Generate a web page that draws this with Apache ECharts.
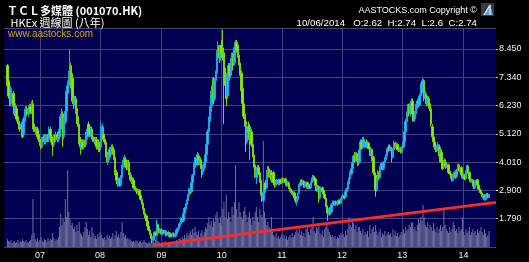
<!DOCTYPE html>
<html><head><meta charset="utf-8">
<script src="https://cdn.jsdelivr.net/npm/echarts@6/dist/echarts.min.js"></script>
<style>html,body{margin:0;padding:0;background:#000;}#c{width:529px;height:262px;}</style>
</head><body><div id="c"></div>
<script>
// ---- data (weekly, first week 2006-06-20, last week 2014-06-10) ----
const startDate = [2006, 5, 20];
const padBefore = 3;
const padAfter = 6;
const opens = [
7.80,7.20,6.60,6.30,6.50,6.70,6.30,5.90,6.10,5.80,
5.60,5.50,5.40,5.50,5.10,5.60,5.90,6.10,5.90,6.00,
6.20,6.00,6.30,5.50,5.30,5.10,5.30,5.10,4.90,4.80,
4.60,4.90,5.00,4.80,4.90,5.00,4.90,5.30,5.00,4.80,
4.70,5.00,4.90,5.10,4.90,5.00,5.30,5.70,5.90,5.00,
5.60,6.00,6.70,7.00,7.30,7.80,7.30,6.60,6.30,6.50,
6.10,5.80,5.50,4.90,4.60,4.80,4.60,4.80,4.70,5.00,
5.50,5.40,5.10,5.30,5.00,4.90,4.80,4.90,4.60,4.80,
4.60,4.60,5.20,5.10,4.90,4.80,4.40,4.00,4.20,4.50,
4.40,4.60,4.50,4.20,3.60,3.30,3.10,3.30,3.10,3.40,
3.80,3.90,4.10,4.00,3.80,4.00,3.60,3.40,3.20,3.30,
3.05,2.95,2.95,2.80,2.90,2.70,2.55,2.40,2.20,2.00,
1.90,1.70,1.50,1.35,1.20,1.05,0.95,1.10,1.25,1.15,
1.55,1.40,1.25,1.35,1.20,1.30,1.25,1.30,1.15,1.25,
1.10,1.20,1.10,1.15,1.20,1.10,1.20,1.30,1.40,1.50,
1.60,1.80,1.70,2.00,2.15,2.35,2.50,2.70,2.95,2.85,
3.20,3.50,3.80,4.10,3.90,4.25,4.00,4.10,3.90,3.60,
3.80,4.00,4.30,4.70,5.20,5.60,6.00,6.30,7.20,6.50,
7.20,7.50,8.20,8.50,8.10,8.60,8.40,8.30,7.70,7.30,
6.60,7.40,7.80,7.40,7.90,8.20,7.90,8.40,8.70,8.60,
8.20,7.90,7.50,6.90,6.30,5.90,5.60,4.80,5.40,5.40,
4.90,5.20,4.70,4.30,3.90,3.40,3.60,3.80,3.60,3.30,
2.80,2.50,2.80,3.20,3.00,3.50,3.75,3.40,3.60,3.30,
3.60,3.30,3.10,3.20,3.30,3.15,3.30,3.20,3.35,3.25,
3.35,3.25,3.10,3.20,3.00,2.95,2.85,2.75,2.80,2.65,
2.45,2.55,2.80,3.10,3.30,3.15,3.25,3.05,3.10,3.20,
3.00,3.10,3.00,3.20,3.30,3.45,3.35,3.10,2.90,3.05,
2.60,2.90,3.00,2.90,2.75,2.60,2.30,2.10,1.95,2.20,
2.05,2.35,2.45,2.35,2.45,2.35,2.40,2.50,2.40,2.55,
2.60,2.70,2.65,2.85,2.95,3.15,3.35,3.55,3.75,4.00,
4.30,4.05,4.35,4.20,4.00,4.50,4.80,4.60,4.90,4.60,
4.80,4.60,4.75,4.60,4.30,4.50,4.20,3.60,3.50,2.90,
3.30,3.60,3.40,3.75,3.95,3.75,4.00,4.10,4.25,4.45,
4.60,4.50,4.55,4.20,4.50,4.75,4.55,4.70,4.55,4.45,
4.55,4.40,4.60,4.80,5.20,5.60,5.90,6.20,5.90,6.30,
6.40,6.00,5.70,5.90,6.20,6.40,6.25,6.60,7.10,6.80,
7.20,6.50,6.60,6.30,6.50,6.30,6.10,5.40,5.00,4.80,
4.65,4.45,4.50,4.60,4.30,4.40,4.05,3.80,4.10,4.00,
3.80,3.90,3.65,3.55,3.40,3.30,3.50,3.60,3.45,3.70,
3.90,3.65,3.80,3.55,3.40,3.50,3.35,3.65,3.85,3.60,
3.35,3.25,3.30,3.15,3.00,3.20,3.30,3.10,2.95,2.90,
2.80,2.60,2.70,2.55,2.65,2.75,2.62];
const closes = [
7.00,6.60,6.30,6.90,6.70,6.20,5.90,6.20,5.70,5.60,
5.40,5.30,5.50,5.00,5.70,6.00,6.10,5.90,6.10,6.20,
6.00,6.30,5.40,5.30,5.20,5.30,5.00,4.90,4.75,4.60,
4.90,5.00,4.80,5.00,5.00,4.90,5.30,5.00,4.80,4.70,
5.00,4.90,5.10,4.90,5.00,5.30,5.80,6.00,5.00,5.70,
6.00,6.80,7.00,7.40,7.70,7.00,6.40,6.30,6.50,6.00,
5.60,5.50,4.80,4.60,4.80,4.60,4.80,4.70,5.10,5.30,
5.20,5.10,5.30,5.00,4.90,4.80,4.90,4.60,4.80,4.50,
4.50,5.30,5.40,4.90,4.80,4.30,4.10,4.20,4.50,4.40,
4.60,4.40,4.20,3.60,3.30,3.15,3.30,3.10,3.40,3.80,
4.00,4.20,3.90,3.80,4.00,3.60,3.35,3.25,3.30,3.00,
2.95,2.90,2.80,2.90,2.70,2.55,2.40,2.20,2.00,1.85,
1.70,1.50,1.35,1.20,1.05,0.95,1.10,1.25,1.15,1.55,
1.40,1.25,1.35,1.20,1.30,1.25,1.30,1.15,1.25,1.15,
1.20,1.10,1.15,1.20,1.10,1.20,1.35,1.40,1.55,1.60,
1.80,1.70,2.00,2.20,2.35,2.50,2.70,2.95,2.85,3.20,
3.50,3.90,4.10,3.90,4.30,4.00,4.10,3.85,3.60,3.80,
4.00,4.30,4.70,5.20,5.70,6.10,6.70,7.00,6.50,7.20,
7.50,8.30,8.60,8.10,8.50,8.30,8.20,7.70,7.20,6.50,
7.50,7.80,7.40,8.00,8.20,7.80,8.50,8.70,8.40,8.20,
7.90,7.50,6.80,6.30,5.80,5.50,4.80,5.40,5.20,4.90,
5.20,4.70,4.30,3.90,3.50,3.70,3.80,3.60,3.30,2.80,
2.55,2.80,3.10,3.00,3.60,3.75,3.50,3.60,3.30,3.50,
3.20,3.10,3.20,3.30,3.15,3.30,3.20,3.35,3.25,3.35,
3.20,3.10,3.20,3.00,2.90,2.85,2.75,2.80,2.60,2.50,
2.55,2.70,3.10,3.20,3.15,3.25,3.05,3.15,3.20,3.00,
3.10,3.00,3.20,3.30,3.45,3.30,3.10,2.90,3.05,2.60,
2.95,3.00,2.85,2.75,2.60,2.30,2.05,1.95,2.20,2.05,
2.35,2.45,2.35,2.45,2.35,2.45,2.50,2.40,2.55,2.65,
2.70,2.60,2.85,2.95,3.20,3.35,3.60,3.75,4.00,4.25,
4.05,4.30,4.10,3.90,4.50,4.80,4.55,4.90,4.65,4.80,
4.60,4.75,4.55,4.30,4.50,4.10,3.60,3.50,2.90,3.30,
3.60,3.40,3.80,3.95,3.75,4.00,4.10,4.25,4.50,4.60,
4.50,4.55,4.20,4.50,4.75,4.60,4.70,4.50,4.45,4.55,
4.40,4.60,4.80,5.20,5.60,5.90,6.20,5.90,6.30,6.40,
5.90,5.70,5.90,6.20,6.40,6.25,6.60,7.00,6.80,7.25,
6.50,6.70,6.30,6.50,6.20,6.10,5.50,5.00,4.80,4.60,
4.45,4.60,4.70,4.25,4.50,4.00,3.75,4.00,3.90,3.80,
3.90,3.60,3.55,3.40,3.30,3.50,3.60,3.40,3.70,3.90,
3.70,3.80,3.50,3.40,3.50,3.35,3.65,3.85,3.60,3.35,
3.25,3.30,3.10,3.00,3.25,3.30,3.10,2.95,2.85,2.80,
2.70,2.70,2.55,2.65,2.75,2.65,2.74];
const lows = [
6.85,6.50,6.20,6.20,6.40,6.10,5.80,5.80,5.60,5.50,
5.30,5.20,5.30,4.95,5.00,5.50,5.80,5.80,5.80,5.90,
5.90,5.90,5.30,5.20,5.10,5.00,4.90,4.80,4.65,4.50,
4.55,4.80,4.70,4.70,4.80,4.80,4.80,4.90,4.70,4.25,
4.60,4.80,4.80,4.80,4.80,4.90,5.20,5.60,4.60,4.90,
5.50,5.90,6.50,6.80,7.10,6.90,6.30,6.10,6.20,5.90,
5.50,5.40,4.70,4.30,4.50,4.50,4.50,4.60,4.60,4.90,
5.10,5.00,5.00,4.90,4.80,4.70,4.70,4.50,4.50,4.40,
4.40,4.50,5.00,4.80,4.70,4.20,4.00,3.90,4.10,4.30,
4.30,4.30,4.10,3.50,3.20,3.05,3.05,3.05,3.05,3.30,
3.70,3.80,3.80,3.70,3.70,3.50,3.30,3.15,3.10,2.95,
2.90,2.85,2.75,2.75,2.65,2.50,2.35,2.15,1.95,1.80,
1.65,1.45,1.30,1.15,1.00,0.84,0.90,1.05,1.10,1.10,
1.35,1.20,1.20,1.15,1.15,1.20,1.20,1.10,1.10,1.10,
1.05,1.05,1.05,1.10,1.05,1.05,1.15,1.25,1.35,1.45,
1.55,1.65,1.65,1.95,2.10,2.30,2.45,2.65,2.75,2.80,
3.15,3.45,3.70,3.80,3.85,3.90,3.90,3.75,3.40,3.50,
3.70,3.90,4.20,4.60,5.10,5.50,5.90,6.20,6.30,6.40,
7.10,7.40,8.00,7.90,8.00,8.10,8.00,5.50,7.00,6.20,
6.50,7.30,7.20,7.30,7.80,7.60,7.80,8.30,8.30,8.10,
7.80,7.40,6.70,6.20,5.70,5.40,4.40,4.70,5.00,4.10,
4.80,4.60,4.20,3.80,3.40,3.15,3.50,3.50,3.20,2.70,
2.45,2.45,2.70,2.90,2.95,3.40,3.40,3.30,3.20,3.20,
3.10,3.00,3.05,3.15,3.10,3.10,3.15,3.15,3.20,3.20,
3.15,3.05,3.05,2.95,2.85,2.80,2.70,2.70,2.55,2.40,
2.30,2.50,2.75,3.05,3.10,3.10,3.00,3.00,3.05,2.95,
2.95,2.95,2.95,3.15,3.25,3.25,3.05,2.85,2.85,2.40,
2.55,2.85,2.80,2.70,2.55,2.25,2.00,1.70,1.90,2.00,
2.00,2.30,2.30,2.30,2.30,2.30,2.35,2.35,2.35,2.50,
2.55,2.55,2.60,2.80,2.90,3.10,3.30,3.50,3.70,3.95,
4.00,4.00,4.05,3.85,3.95,4.45,4.50,4.55,4.60,4.55,
4.55,4.55,4.50,4.25,4.25,4.05,3.55,3.40,2.65,2.85,
3.25,3.35,3.35,3.70,3.70,3.70,3.95,4.05,4.20,4.40,
4.45,4.45,4.00,4.15,4.45,4.55,4.50,4.45,4.40,4.40,
4.35,4.35,4.55,4.75,5.15,5.50,5.80,5.80,5.80,6.20,
5.60,5.60,5.60,5.80,6.10,6.15,6.20,6.50,6.70,6.70,
6.40,6.40,6.20,6.20,6.10,6.00,5.40,4.90,4.70,4.50,
4.40,4.40,4.45,4.00,4.25,3.95,3.70,3.75,3.85,3.75,
3.75,3.55,3.50,3.35,3.25,3.25,3.45,3.35,3.40,3.65,
3.65,3.60,3.45,3.35,3.35,3.30,3.30,3.60,3.55,3.30,
3.20,3.20,3.05,2.95,2.95,3.15,3.05,2.90,2.80,2.75,
2.65,2.55,2.50,2.50,2.60,2.60,2.60];
const highs = [
7.85,7.30,6.70,7.00,6.85,6.80,6.40,6.30,6.20,5.90,
5.70,5.60,5.60,5.60,5.80,6.10,6.20,6.20,6.20,6.30,
6.30,6.40,6.45,5.60,5.40,5.40,5.40,5.20,5.00,4.90,
5.00,5.10,5.10,5.10,5.10,5.10,5.40,5.40,5.10,4.90,
5.10,5.10,5.20,5.20,5.10,5.40,5.90,6.10,6.00,5.80,
6.10,6.90,7.20,7.60,8.42,7.90,7.50,6.70,6.60,6.60,
6.20,5.90,5.60,5.00,4.90,4.90,4.90,4.90,5.20,5.40,
5.60,5.50,5.40,5.40,5.10,5.00,5.00,5.00,4.90,4.90,
4.70,5.60,5.50,5.30,5.00,4.90,4.50,4.30,4.60,4.60,
4.70,4.70,4.60,4.30,3.70,3.40,3.40,3.40,3.50,3.90,
4.10,4.30,4.20,4.10,4.10,4.10,3.70,3.50,3.40,3.40,
3.10,3.00,3.00,2.95,2.95,2.75,2.60,2.45,2.25,2.05,
1.95,1.75,1.55,1.40,1.25,1.10,1.15,1.30,1.30,1.75,
1.60,1.45,1.40,1.40,1.35,1.35,1.35,1.35,1.30,1.30,
1.25,1.25,1.20,1.25,1.25,1.25,1.40,1.45,1.60,1.65,
1.85,1.85,2.05,2.25,2.40,2.55,2.75,3.00,3.00,3.25,
3.55,4.00,4.20,4.20,4.40,4.35,4.20,4.20,3.95,3.90,
4.10,4.40,4.80,5.30,5.80,6.20,6.80,7.30,7.35,7.30,
7.60,8.40,8.75,8.60,8.60,8.80,9.20,8.50,7.80,7.40,
7.60,7.90,7.90,8.10,8.30,8.30,8.60,8.80,8.80,8.70,
8.30,8.00,7.60,7.00,6.40,6.00,5.75,5.50,5.60,5.50,
5.30,5.30,4.80,4.40,4.00,3.80,3.90,3.90,3.70,3.40,
2.90,2.90,3.20,3.30,3.70,3.85,3.85,3.70,3.70,3.60,
3.65,3.40,3.25,3.35,3.35,3.35,3.35,3.40,3.40,3.40,
3.40,3.30,3.25,3.25,3.05,3.00,2.90,2.85,2.85,2.70,
2.60,2.80,3.15,3.30,3.35,3.30,3.30,3.20,3.25,3.25,
3.15,3.15,3.25,3.40,3.50,3.50,3.40,3.15,3.10,3.10,
3.00,3.05,3.05,2.95,2.80,2.65,2.35,2.15,2.25,2.25,
2.40,2.50,2.50,2.50,2.50,2.50,2.55,2.55,2.60,2.70,
2.75,2.75,2.90,3.00,3.25,3.40,3.65,3.80,4.05,4.30,
4.40,4.40,4.40,4.25,4.55,4.90,4.90,5.00,5.00,4.90,
4.90,4.85,4.80,4.65,4.55,4.55,4.25,3.70,3.55,3.40,
3.70,3.65,3.85,4.00,4.00,4.05,4.20,4.30,4.55,4.70,
4.70,4.65,4.60,4.55,4.85,4.80,4.75,4.75,4.60,4.60,
4.60,4.65,4.85,5.30,5.70,6.00,6.30,6.30,6.40,6.50,
6.50,6.10,6.00,6.30,6.50,6.50,6.70,7.10,7.20,7.30,
7.25,6.80,6.70,6.60,6.60,6.40,6.20,5.50,5.10,4.90,
4.70,4.70,4.80,4.70,4.55,4.50,4.10,4.10,4.15,4.05,
3.95,3.95,3.70,3.60,3.45,3.55,3.65,3.65,3.75,3.95,
3.95,3.85,3.85,3.60,3.55,3.55,3.70,3.90,3.90,3.65,
3.40,3.35,3.35,3.20,3.30,3.35,3.35,3.15,3.00,2.95,
2.85,2.75,2.75,2.70,2.80,2.80,2.74];
const volumes = [
8,6,5,7,4,5,6,4,5,7, 4,6,5,8,6,5,7,5,4,6, 7,12,48,14,8,6,9,5,7,10,
6,5,8,7,5,9,6,8,7,14, 9,6,8,7,10,20,33,22,28,25, 48,30,77,35,28,22,24,18,20,15,
22,16,25,14,12,10,15,20,25,18, 12,16,10,20,14,9,11,8,13,10, 15,12,9,8,10,7,12,9,11,8,
10,14,8,12,16,10,13,9,15,25, 14,10,12,8,9,7,8,6,5,6, 5,7,6,4,5,6,4,5,7,5,
4,3,5,4,6,8,5,4,7,10, 6,5,4,3,5,4,6,3,4,5, 4,3,5,4,6,5,7,6,8,9,
7,10,8,12,9,14,11,13,16,12, 18,14,20,15,12,16,10,14,17,12, 15,20,18,24,30,22,26,20,28,25,
32,35,28,24,30,22,38,45,30,52, 28,35,30,25,40,32,45,82,38,30, 45,35,30,28,36,40,32,25,30,35,
28,22,30,26,35,40,30,25,38,32, 30,106,35,28,22,25,20,18,30,15, 12,10,14,9,11,8,10,13,9,12,
8,11,7,10,12,9,14,10,12,15, 18,14,20,12,16,11,14,10,18,22, 15,12,18,20,30,16,14,20,18,24,
14,12,16,10,18,20,24,18,15,12, 10,12,9,11,8,10,9,12,14,11, 13,10,16,12,18,30,22,20,28,24,
18,22,15,20,20,16,14,18,12,15, 13,16,10,22,14,18,20,15,22,16, 12,15,18,10,14,12,16,11,13,15,
12,14,10,18,12,16,11,14,10,12, 15,12,18,14,20,16,18,22,20,24, 25,18,20,16,22,28,24,30,26,42,
30,22,20,25,18,22,20,16,24,18, 15,20,14,18,22,16,20,37,22,18, 16,14,20,15,18,25,22,16,18,14,
20,16,18,30,15,12,18,14,16,20, 12,15,18,14,16,12,18,14,16,20, 15,12,18,14,10,12,16];
const trendLine = [['2008-11-25', 0.75], ['2014-07-22', 2.43]];
const yTicks = { min: 0.68, max: 9.27, step: 1.11 };
const titleText = 'ＴＣＬ多媒體 (001070.HK)';
const subText = ' HKEx 週線圖 (八年)';
const siteText = 'www.aastocks.com';
const copyText = 'AASTOCKS.com Copyright ©';
const quoteText = '10/06/2014   O:2.62  H:2.74  L:2.6  C:2.74';

// ---- build categories (weekly dates) ----
const nData = closes.length;
const cats = [];
const t0 = Date.UTC(startDate[0], startDate[1], startDate[2]);
for (let i = 0; i < padBefore + nData + padAfter; i++) {
  const d = new Date(t0 + (i - padBefore) * 7 * 86400000);
  cats.push(d.toISOString().slice(0, 10));
}
const pad = (n) => Array(n).fill('-');
const candleData = pad(padBefore).concat(
  opens.map((o, i) => [o, closes[i], lows[i], highs[i]])).concat(pad(padAfter));
const volData = pad(padBefore).concat(volumes).concat(pad(padAfter));
const trendData = cats.map(() => '-');
trendLine.forEach(([d, v]) => { const k = cats.indexOf(d); if (k >= 0) trendData[k] = v; });
const yearStart = (idx) => idx > 0 && cats[idx].slice(0, 4) !== cats[idx - 1].slice(0, 4);

const GRID = '#44447a';
const chart = echarts.init(document.getElementById('c'), null, { renderer: 'canvas' });
chart.setOption({
  animation: false,
  backgroundColor: '#000',
  grid: [
    { left: 4, right: 33, top: 28, bottom: 15, show: true, backgroundColor: '#000050', borderWidth: 0 },
    { left: 4, right: 33, top: 140, bottom: 15, show: false }
  ],
  xAxis: [
    { type: 'category', data: cats, boundaryGap: false, gridIndex: 0,
      axisLine: { show: false }, axisTick: { show: false },
      axisLabel: { interval: (i) => yearStart(i), formatter: (v) => v.slice(2, 4),
        color: '#f0f0f0', fontSize: 9, fontFamily: 'Arial, Liberation Sans', margin: 4 },
      splitLine: { show: true, interval: (i) => yearStart(i), lineStyle: { color: GRID, width: 1 } } },
    { type: 'category', data: cats, boundaryGap: false, gridIndex: 1, show: false }
  ],
  yAxis: [
    { type: 'value', gridIndex: 0, position: 'right', min: yTicks.min, max: yTicks.max, interval: yTicks.step,
      axisLine: { show: false },
      axisTick: { show: true, length: 2, lineStyle: { color: '#cccccc' } },
      axisLabel: { showMinLabel: false, showMaxLabel: false, formatter: (v) => v.toFixed(3),
        color: '#f0f0f0', fontSize: 9, fontFamily: 'Arial, Liberation Sans', margin: 3 },
      splitLine: { show: true, lineStyle: { color: GRID, width: 1 } } },
    { type: 'value', gridIndex: 1, min: 0, max: 107, show: false, splitLine: { show: false } }
  ],
  series: [
    { type: 'bar', xAxisIndex: 1, yAxisIndex: 1, data: volData, barWidth: 0.7,
      itemStyle: { color: '#7070a0' }, z: 1, silent: true },
    { type: 'candlestick', xAxisIndex: 0, yAxisIndex: 0, data: candleData, barWidth: 2, large: false,
      itemStyle: { color: '#22c4f2', color0: '#8cf000', borderColor: '#1aa8e0', borderColor0: '#78d800', borderWidth: 1 },
      z: 3, silent: true },
    { type: 'line', xAxisIndex: 0, yAxisIndex: 0, data: trendData, connectNulls: true, symbol: 'none',
      lineStyle: { color: '#ff2a2a', width: 2.8 }, z: 5, silent: true }
  ],
  graphic: [
    { type: 'text', x: 7, y: 11, z: 10, style: { text: titleText, fill: '#ffffff',
      font: 'bold 11px "Noto Sans CJK TC", sans-serif', textVerticalAlign: 'middle' } },
    { type: 'text', x: 8, y: 22.5, z: 10, style: { text: subText, fill: '#ffffff',
      font: '11px "Noto Sans CJK TC", sans-serif', textVerticalAlign: 'middle' } },
    { type: 'text', x: 8, y: 34.5, z: 10, style: { text: siteText, fill: '#d9a21b',
      font: '10px Arial, "Liberation Sans", sans-serif', textVerticalAlign: 'middle' } },
    { type: 'text', x: 477, y: 11, z: 10, style: { text: copyText, fill: '#ffffff',
      font: '9px Arial, "Liberation Sans", sans-serif', textAlign: 'right', textVerticalAlign: 'middle' } },
    { type: 'text', x: 477, y: 23.5, z: 10, style: { text: quoteText, fill: '#ffffff',
      font: '9.7px Arial, "Liberation Sans", sans-serif', textAlign: 'right', textVerticalAlign: 'middle' } },
    { type: 'rect', z: 10, shape: { x: 481, y: 3, width: 13, height: 13 }, style: { fill: '#3a3a3a' } },
    { type: 'polygon', z: 11, shape: { points: [[483, 15], [490, 4], [493, 15]] }, style: { fill: '#5aa0e0' } },
    { type: 'polyline', z: 12, shape: { points: [[484, 15], [490, 5], [490, 15]] }, style: { stroke: '#ffffff', lineWidth: 1, fill: null } }
  ]
});
</script>
</body></html>
